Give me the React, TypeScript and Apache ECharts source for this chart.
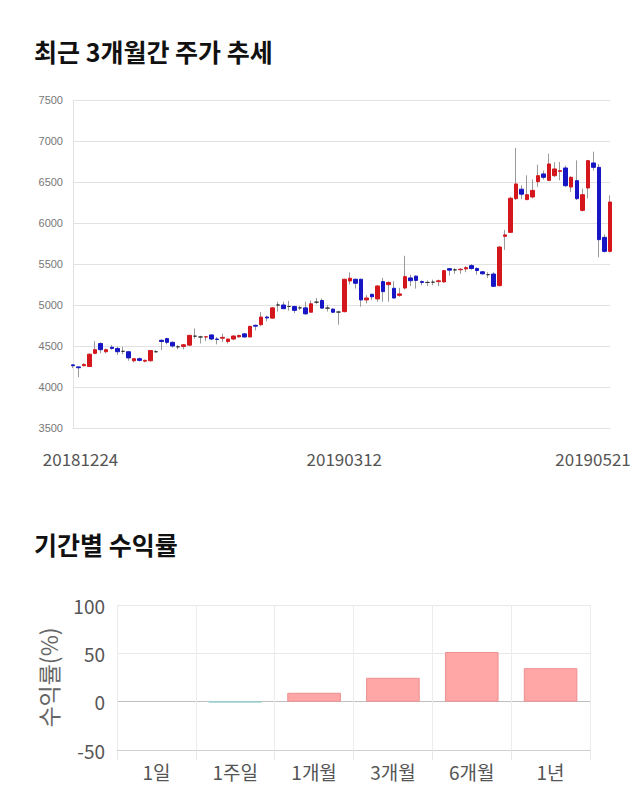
import React, { useEffect, useRef } from "react";
import * as echarts from "echarts";

const dates = [
  "20181224","20181226","20181227","20181228",
  "20190102","20190103","20190104","20190107","20190108","20190109","20190110","20190111",
  "20190114","20190115","20190116","20190117","20190118","20190121","20190122","20190123",
  "20190124","20190125","20190128","20190129","20190130","20190131",
  "20190201","20190207","20190208","20190211","20190212","20190213","20190214","20190215",
  "20190218","20190219","20190220","20190221","20190222","20190225","20190226","20190227","20190228",
  "20190304","20190305","20190306","20190307","20190308","20190311","20190312","20190313",
  "20190314","20190315","20190318","20190319","20190320","20190321","20190322","20190325",
  "20190326","20190327","20190328","20190329",
  "20190401","20190402","20190403","20190404","20190405","20190408","20190409","20190410",
  "20190411","20190412","20190415","20190416","20190417","20190418","20190419","20190422",
  "20190423","20190424","20190425","20190426","20190429","20190430",
  "20190502","20190503","20190507","20190508","20190509","20190510","20190513","20190514",
  "20190515","20190516","20190517","20190520","20190521",
];

const opens = [
  4270, 4245, 4260, 4250, 4410, 4530, 4430, 4485, 4470, 4435,
  4430, 4320, 4345, 4315, 4320, 4430, 4570, 4590, 4545, 4490,
  4495, 4510, 4620, 4610, 4610, 4635, 4585, 4595, 4555, 4585,
  4612, 4648, 4610, 4752, 4760, 4853, 4840, 5000, 5000, 4982,
  4982, 4965, 4965, 4912, 5035, 5055, 4962, 4950, 4914, 4919,
  5293, 5314, 5314, 5062, 5130, 5074, 5285, 5248, 5204, 5118,
  5207, 5330, 5352, 5285, 5275, 5278, 5285, 5282, 5443, 5428,
  5430, 5440, 5480, 5445, 5405, 5370, 5378, 5236, 5837, 5886,
  6297, 6412, 6285, 6317, 6504, 6598, 6520, 6577, 6630, 6671,
  6439, 6516, 6154, 6427, 6732, 6679, 5825, 5654,
];
const closes = [
  4260, 4235, 4275, 4400, 4455, 4455, 4455, 4470, 4430, 4435,
  4355, 4345, 4325, 4325, 4445, 4430, 4555, 4545, 4500, 4490,
  4515, 4630, 4620, 4610, 4612, 4585, 4580, 4605, 4585, 4622,
  4628, 4610, 4740, 4742, 4853, 4842, 4965, 5000, 4955, 4982,
  4935, 4965, 4892, 5015, 5035, 4962, 4962, 4912, 4914, 5314,
  5326, 5265, 5062, 5085, 5100, 5232, 5163, 5275, 5085, 5135,
  5346, 5296, 5300, 5275, 5275, 5278, 5295, 5419, 5425, 5428,
  5436, 5455, 5445, 5420, 5380, 5370, 5228, 5707, 5855, 6302,
  6476, 6351, 6345, 6398, 6577, 6557, 6720, 6659, 6638, 6455,
  6557, 6297, 6345, 6760, 6679, 5797, 5654, 6256,
];
const lows = [
  4230, 4120, 4250, 4245, 4400, 4410, 4410, 4455, 4390, 4400,
  4320, 4300, 4310, 4300, 4310, 4420, 4450, 4520, 4480, 4460,
  4460, 4500, 4590, 4530, 4560, 4570, 4520, 4550, 4530, 4570,
  4600, 4600, 4605, 4690, 4740, 4800, 4830, 4920, 4950, 4930,
  4900, 4940, 4880, 4910, 5010, 4955, 4920, 4900, 4760, 4910,
  5250, 5200, 4980, 5020, 5060, 5040, 5040, 5040, 5080, 5100,
  5190, 5230, 5200, 5240, 5230, 5240, 5230, 5270, 5360, 5380,
  5380, 5400, 5430, 5370, 5370, 5330, 5220, 5225, 5672, 5880,
  6280, 6290, 6280, 6300, 6440, 6530, 6510, 6560, 6520, 6440,
  6380, 6280, 6140, 6300, 6640, 5581, 5640, 5640,
];
const highs = [
  4275, 4250, 4290, 4410, 4560, 4545, 4470, 4510, 4495, 4490,
  4440, 4350, 4360, 4335, 4450, 4450, 4580, 4600, 4555, 4510,
  4525, 4635, 4715, 4625, 4620, 4640, 4610, 4650, 4590, 4630,
  4640, 4660, 4745, 4760, 4915, 4870, 4975, 5040, 5040, 5050,
  4990, 4990, 5040, 5055, 5085, 5080, 5000, 4960, 4930, 5320,
  5398, 5320, 5320, 5120, 5140, 5240, 5330, 5290, 5290, 5210,
  5600, 5370, 5360, 5300, 5300, 5310, 5310, 5425, 5450, 5450,
  5450, 5475, 5500, 5460, 5415, 5400, 5400, 5720, 5916, 6320,
  6915, 6460, 6581, 6530, 6711, 6640, 6846, 6740, 6745, 6700,
  6570, 6764, 6420, 6770, 6870, 6720, 5860, 6337,
];

const priceTicks = [3500, 4000, 4500, 5000, 5500, 6000, 6500, 7000, 7500];

const periods = ["1일", "1주일", "1개월", "3개월", "6개월", "1년"];
const returns = [0, -0.6, 9.2, 24.7, 51.4, 34.6];
const returnTicks = [-50, 0, 50, 100];

const FONT = "'Noto Sans CJK KR', 'Noto Sans', sans-serif";
const UP = "#d3171d";
const DOWN = "#1616c4";

export default function App() {
  const ref = useRef<HTMLDivElement>(null);

  useEffect(() => {
    if (!ref.current) return;
    const chart = echarts.init(ref.current, null, { renderer: "svg" });
    const last = dates.length - 1;
    const midIdx = dates.indexOf("20190312");

    const wickData = dates.map((_, i) => [opens[i], closes[i], lows[i], highs[i]]);
    const bodyData = dates.map((_, i) => [
      opens[i],
      closes[i],
      Math.min(opens[i], closes[i]),
      Math.max(opens[i], closes[i]),
    ]);

    const LBL = 17;

    const option: any = {
      animation: false,
      backgroundColor: "#ffffff",
      textStyle: { fontFamily: FONT },
      title: [
        {
          text: "최근 3개월간 주가 추세",
          left: 29,
          top: 33,
          textStyle: { fontSize: 25, fontWeight: "bold", color: "#111", fontFamily: FONT },
        },
        {
          text: "기간별 수익률",
          left: 29,
          top: 526,
          textStyle: { fontSize: 25, fontWeight: "bold", color: "#111", fontFamily: FONT },
        },
      ],
      grid: [
        { left: 73, right: 30, top: 100, height: 328, containLabel: false },
        { left: 117, right: 50, top: 605, height: 145, containLabel: false },
      ],
      xAxis: [
        {
          type: "category",
          gridIndex: 0,
          data: dates,
          boundaryGap: false,
          axisLine: { show: true, lineStyle: { color: "#e2e2e2" } },
          axisTick: { show: false },
          splitLine: { show: false },
          axisLabel: {
            interval: (i: number) => i === 0 || i === midIdx || i === last,
            margin: 22,
            color: "#555",
            fontSize: LBL,
            fontFamily: FONT,
            formatter: (v: string, i: number) =>
              i === 0 ? "{a|" + v + "}" : i === last ? "{c|" + v + "}" : "{b|" + v + "}",
            rich: {
              a: { fontSize: LBL, color: "#555", fontFamily: FONT, padding: [0, 0, 0, 15] },
              b: { fontSize: LBL, color: "#555", fontFamily: FONT },
              c: { fontSize: LBL, color: "#555", fontFamily: FONT, padding: [0, 34, 0, 0] },
            },
          },
        },
        {
          type: "category",
          gridIndex: 1,
          data: periods,
          boundaryGap: true,
          axisLine: { show: true, onZero: false, lineStyle: { color: "#cfcfcf" } },
          axisTick: { show: true, length: 10, lineStyle: { color: "#e6e6e6" } },
          splitLine: { show: true, lineStyle: { color: "#ececec" } },
          axisLabel: { color: "#555", fontSize: 19, margin: 12, fontFamily: FONT },
        },
      ],
      yAxis: [
        {
          type: "value",
          gridIndex: 0,
          min: priceTicks[0],
          max: priceTicks[priceTicks.length - 1],
          interval: 500,
          axisLine: { show: true, lineStyle: { color: "#e2e2e2" } },
          axisTick: { show: false },
          splitLine: { show: true, lineStyle: { color: "#e2e2e2" } },
          axisLabel: {
            color: "#777",
            fontSize: 11,
            margin: 10,
            fontFamily: "'Liberation Sans', Arial, sans-serif",
            formatter: (v: number) => String(v),
          },
        },
        {
          type: "value",
          gridIndex: 1,
          min: returnTicks[0],
          max: returnTicks[returnTicks.length - 1],
          interval: 50,
          name: "수익률(%)",
          nameLocation: "middle",
          nameRotate: 90,
          nameGap: 58,
          nameTextStyle: { color: "#666", fontSize: 23, fontFamily: FONT },
          axisLine: { show: false },
          axisTick: { show: false },
          splitLine: {
            show: true,
            lineStyle: { color: ["#d0d0d0", "#bdbdbd", "#e8e8e8", "#e8e8e8"] },
          },
          axisLabel: { color: "#555", fontSize: 19, margin: 12, fontFamily: FONT },
        },
      ],
      series: [
        {
          type: "candlestick",
          xAxisIndex: 0,
          yAxisIndex: 0,
          data: wickData,
          barWidth: 1,
          itemStyle: {
            color: "#9a9a9a",
            color0: "#9a9a9a",
            borderColor: "#9a9a9a",
            borderColor0: "#9a9a9a",
            borderColorDoji: "#9a9a9a",
            borderWidth: 1,
          },
          z: 2,
        },
        {
          type: "candlestick",
          xAxisIndex: 0,
          yAxisIndex: 0,
          data: bodyData,
          barWidth: 4,
          itemStyle: {
            color: UP,
            color0: DOWN,
            borderColor: UP,
            borderColor0: DOWN,
            borderColorDoji: "#333",
            borderWidth: 1,
          },
          z: 3,
        },
        {
          type: "bar",
          xAxisIndex: 1,
          yAxisIndex: 1,
          barWidth: "68%",
          data: returns.map((v) => ({
            value: v,
            itemStyle:
              v > 0
                ? { color: "#ffa6a6", borderColor: "#ee9090", borderWidth: 1 }
                : v < 0
                ? { color: "#a9dede", borderColor: "#98d0d0", borderWidth: 1 }
                : { color: "rgba(0,0,0,0)", borderWidth: 0 },
          })),
          z: 3,
        },
      ],
    };

    chart.setOption(option);
    return () => chart.dispose();
  }, []);

  return (
    <div
      ref={ref}
      style={{ position: "absolute", left: 0, top: 0, width: 640, height: 810, background: "#fff" }}
    />
  );
}
